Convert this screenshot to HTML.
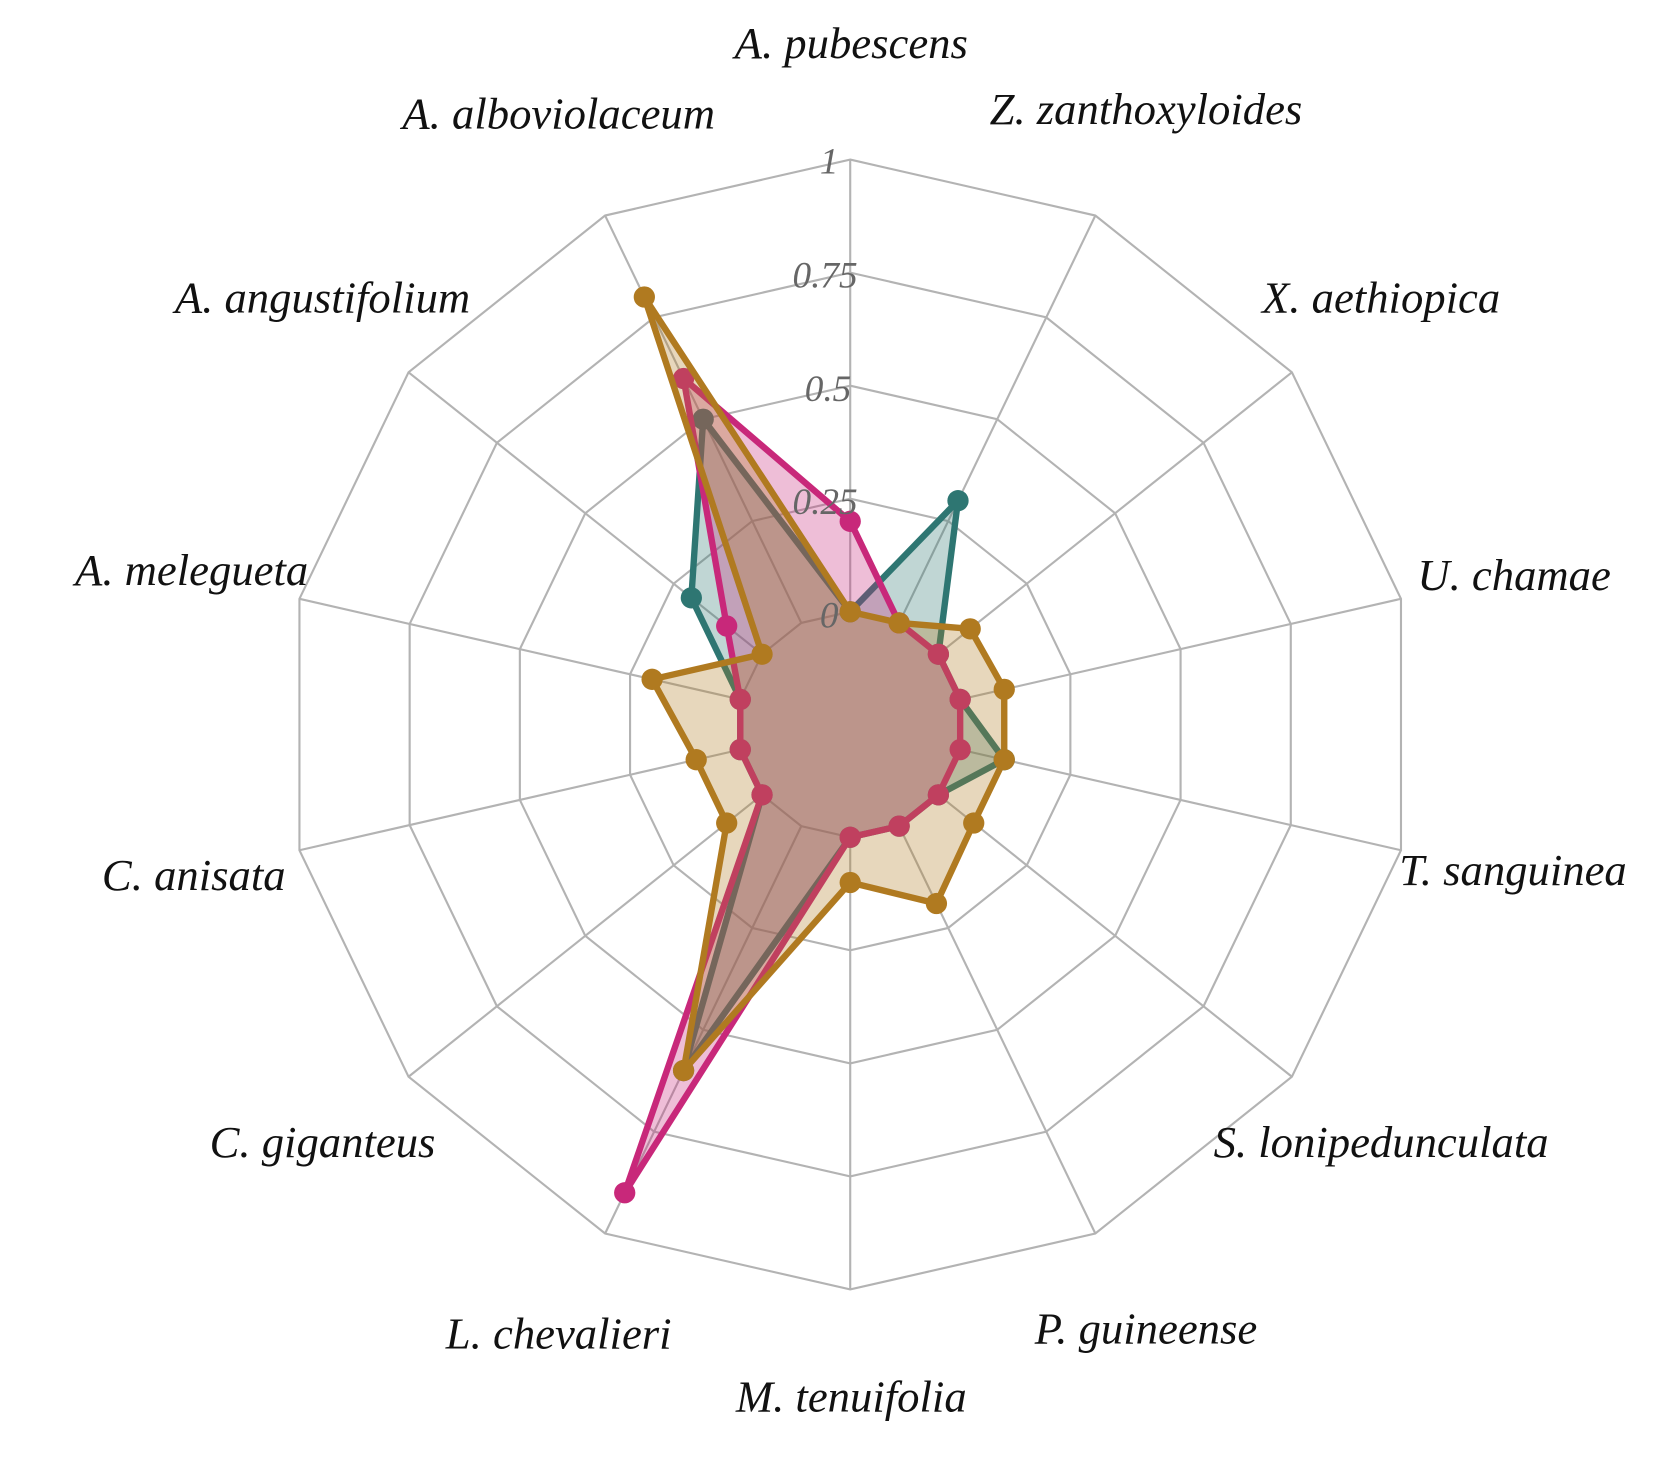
<!DOCTYPE html>
<html><head><meta charset="utf-8"><style>
html,body{margin:0;padding:0;background:#fff;}
svg{display:block;}
text{font-family:"Liberation Serif",serif;font-style:italic;}
</style></head><body>
<svg id="s" width="1660" height="1465" viewBox="0 0 1560 1377" xmlns="http://www.w3.org/2000/svg">
<g id="grid" fill="none" stroke="#b3b3b3" stroke-width="2"></g>
<g id="series"></g>
<g font-size="35" fill="#666" text-anchor="end">
<text x="788" y="163">1</text>
<text x="806" y="270">0.75</text>
<text x="800" y="377">0.5</text>
<text x="806" y="483">0.25</text>
<text x="788" y="590">0</text>
</g>
<g font-size="42" fill="#111" text-anchor="middle" dominant-baseline="middle">
<text x="800" y="45">A. pubescens</text>
<text x="1077" y="107">Z. zanthoxyloides</text>
<text x="1298" y="284">X. aethiopica</text>
<text x="1423" y="545">U. chamae</text>
<text x="1422" y="822">T. sanguinea</text>
<text x="1298" y="1078">S. lonipedunculata</text>
<text x="1077" y="1253">P. guineense</text>
<text x="800" y="1317">M. tenuifolia</text>
<text x="525" y="1258">L. chevalieri</text>
<text x="303" y="1078">C. giganteus</text>
<text x="182" y="827">C. anisata</text>
<text x="180" y="540">A. melegueta</text>
<text x="303" y="284">A. angustifolium</text>
<text x="525" y="111">A. alboviolaceum</text>
</g>
</svg>
<script>
var cx=799,cy=681,N=14,NS="http://www.w3.org/2000/svg";
function pt(k,v){var a=k*2*Math.PI/N,r=106+425*v;return [cx+r*Math.sin(a),cy-r*Math.cos(a)];}
var g=document.getElementById('grid');
for(var l=0;l<=1.0001;l+=0.25){var p=[];for(var k=0;k<N;k++)p.push(pt(k,l).join(','));
var e=document.createElementNS(NS,'polygon');e.setAttribute('points',p.join(' '));g.appendChild(e);}
for(var k=0;k<N;k++){var a=pt(k,0),b=pt(k,1);var e=document.createElementNS(NS,'line');
e.setAttribute('x1',a[0]);e.setAttribute('y1',a[1]);e.setAttribute('x2',b[0]);e.setAttribute('y2',b[1]);g.appendChild(e);}
var data=[
 {c:'#2e7672',v:[0,0.3,0,0,0.1,0,0,0,0.6,0,0,0,0.2,0.5]},
 {c:'#c8287a',v:[0.2,0,0,0,0,0,0,0,0.9,0,0,0,0.1,0.6]},
 {c:'#b07a20',v:[0,0,0.09,0.1,0.1,0.1,0.19,0.1,0.6,0.1,0.1,0.2,0,0.8]}
];
var sg=document.getElementById('series');
data.forEach(function(d){var p=[];for(var k=0;k<N;k++)p.push(pt(k,d.v[k]));
var e=document.createElementNS(NS,'polygon');e.setAttribute('points',p.map(function(q){return q.join(',')}).join(' '));
e.setAttribute('fill',d.c);e.setAttribute('fill-opacity','0.3');e.setAttribute('stroke',d.c);e.setAttribute('stroke-width','6');e.setAttribute('stroke-linejoin','round');sg.appendChild(e);
p.forEach(function(q){var c=document.createElementNS(NS,'circle');c.setAttribute('cx',q[0]);c.setAttribute('cy',q[1]);c.setAttribute('r','10');c.setAttribute('fill',d.c);sg.appendChild(c);});
});
</script>
</body></html>
